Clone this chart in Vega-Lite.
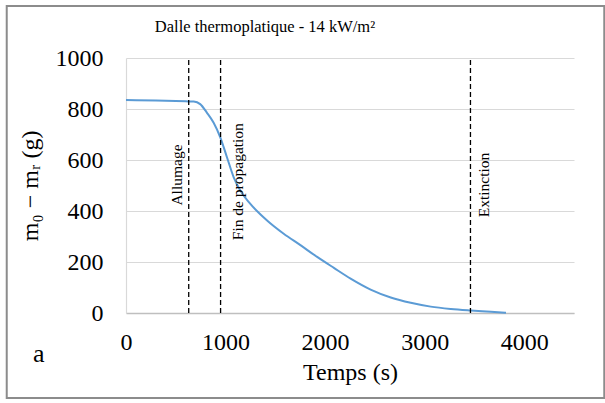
{
  "$schema": "https://vega.github.io/schema/vega-lite/v6.json",
  "width": 448,
  "height": 255,
  "autosize": {"type": "none"},
  "padding": {"left": 126, "top": 58, "right": 31, "bottom": 90},
  "background": "white",
  "config": {
    "font": "Liberation Serif",
    "view": {"stroke": null},
    "axis": {"labelFont": "Liberation Serif", "titleFont": "Liberation Serif", "labelColor": "black", "titleColor": "black", "titleFontWeight": "normal"}
  },
  "datasets": {
    "curve": [
      {"t": 0, "m": 835}, {"t": 300, "m": 833}, {"t": 600, "m": 830}, {"t": 680, "m": 829},
      {"t": 745, "m": 819}, {"t": 812, "m": 786}, {"t": 879, "m": 747}, {"t": 947, "m": 689},
      {"t": 1014, "m": 611}, {"t": 1081, "m": 533}, {"t": 1148, "m": 480}, {"t": 1249, "m": 428},
      {"t": 1417, "m": 363}, {"t": 1584, "m": 311}, {"t": 1752, "m": 266}, {"t": 1920, "m": 220},
      {"t": 2088, "m": 177}, {"t": 2256, "m": 135}, {"t": 2457, "m": 92}, {"t": 2659, "m": 61},
      {"t": 2860, "m": 40}, {"t": 3061, "m": 25}, {"t": 3263, "m": 16}, {"t": 3464, "m": 10},
      {"t": 3666, "m": 5}, {"t": 3817, "m": 1}
    ],
    "events": [
      {"event": "Allumage", "t": 630, "lt": 514, "lm": 541},
      {"event": "Fin de propagation", "t": 950, "lt": 1128, "lm": 515},
      {"event": "Extinction", "t": 3460, "lt": 3592, "lm": 502}
    ],
    "one": [{"panel": "a", "chartTitle": "Dalle thermoplatique - 14 kW/m²"}]
  },
  "layer": [
    {
      "data": {"name": "curve"},
      "mark": {"type": "line", "color": "#5B9BD5", "strokeWidth": 2, "interpolate": "monotone"},
      "encoding": {
        "x": {
          "field": "t", "type": "quantitative",
          "scale": {"domain": [0, 4500], "nice": false},
          "axis": {
            "values": [0, 1000, 2000, 3000, 4000], "format": "d", "grid": false,
            "ticks": false, "domain": true, "domainColor": "#bfbfbf", "domainWidth": 1.5,
            "labelFontSize": 24, "labelPadding": 17, "labelFlush": false,
            "title": "Temps (s)", "titleFontSize": 24, "titlePadding": 6, "titleFontWeight": "normal"
          }
        },
        "y": {
          "field": "m", "type": "quantitative",
          "scale": {"domain": [0, 1000], "nice": false},
          "axis": {
            "values": [0, 200, 400, 600, 800, 1000], "format": "d", "grid": true,
            "gridColor": "#d9d9d9", "gridWidth": 1.2,
            "ticks": false, "domain": true, "domainColor": "#d9d9d9", "domainWidth": 1.2,
            "labelFontSize": 24, "labelPadding": 23, "labelFlush": false,
            "title": "m₀ − mᵣ (g)", "titleFontSize": 24, "titlePadding": 13, "titleFontWeight": "normal"
          }
        }
      }
    },
    {
      "data": {"name": "events"},
      "mark": {"type": "rule", "color": "black", "strokeWidth": 1.3, "strokeDash": [5, 3]},
      "encoding": {
        "x": {"field": "t", "type": "quantitative"},
        "y": {"datum": 0},
        "y2": {"datum": 1000}
      }
    },
    {
      "data": {"name": "events"},
      "mark": {"type": "text", "angle": 270, "fontSize": 15.5, "font": "Liberation Serif", "color": "black", "align": "center", "baseline": "middle"},
      "encoding": {
        "x": {"field": "lt", "type": "quantitative"},
        "y": {"field": "lm", "type": "quantitative"},
        "text": {"field": "event"}
      }
    },
    {
      "data": {"name": "one"},
      "mark": {"type": "text", "fontSize": 26, "font": "Liberation Serif", "color": "black", "align": "center", "baseline": "alphabetic", "clip": false},
      "encoding": {
        "x": {"datum": -876},
        "y": {"datum": -192},
        "text": {"field": "panel"}
      }
    },
    {
      "data": {"name": "one"},
      "mark": {"type": "text", "fontSize": 16.5, "font": "Liberation Serif", "color": "black", "align": "center", "baseline": "alphabetic", "clip": false},
      "encoding": {
        "x": {"datum": 1396},
        "y": {"datum": 1102},
        "text": {"field": "chartTitle"}
      }
    },
    {
      "data": {"name": "one"},
      "mark": {"type": "rect", "filled": false, "stroke": "#8c8c8c", "strokeWidth": 2, "clip": false},
      "encoding": {
        "x": {"datum": -1198},
        "x2": {"datum": 4804},
        "y": {"datum": -333},
        "y2": {"datum": 1204}
      }
    }
  ]
}
